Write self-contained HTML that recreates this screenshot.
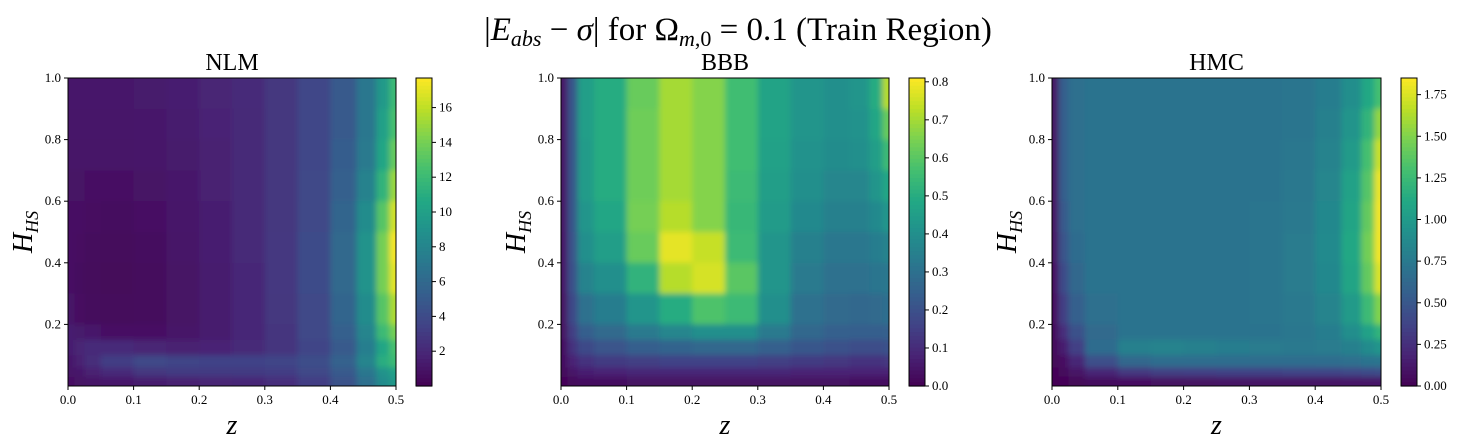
<!DOCTYPE html>
<html><head><meta charset="utf-8">
<style>
body{margin:0;background:#fff;}
svg{display:block;font-family:"Liberation Serif","DejaVu Serif",serif;}
</style></head>
<body>
<svg id="fig" width="1460" height="448" viewBox="0 0 1460 448" xmlns="http://www.w3.org/2000/svg">
<defs>
<filter id="soft" x="-20" y="-20" width="1500" height="500" filterUnits="userSpaceOnUse"><feGaussianBlur stdDeviation="2.8"/></filter>
</defs>
<text x="738" y="40" font-size="33" text-anchor="middle">|<tspan font-style="italic">E</tspan><tspan font-style="italic" font-size="22" dy="6">abs</tspan><tspan dy="-6"> − </tspan><tspan font-style="italic">σ</tspan>| for Ω<tspan font-style="italic" font-size="22" dy="6">m</tspan><tspan font-size="22">,0</tspan><tspan dy="-6"> = 0.1 (Train Region)</tspan></text>
</svg>
<script>
// shared grid edges (data units)
const colEdges=[0,0.01,0.025,0.05,0.1,0.15,0.2,0.25,0.3,0.35,0.4,0.44,0.47,0.49,0.5];
const rowEdges=[1,0.9,0.8,0.7,0.6,0.5,0.4,0.3,0.2,0.15,0.1,0.06,0.03,0];
const xTicks=[0,0.1,0.2,0.3,0.4,0.5];
const yTicks=[0.2,0.4,0.6,0.8,1.0];
const panelTitles=["NLM","BBB","HMC"];
const nlmRange=[0,17.7];
const bbbRange=[0,0.81];
const hmcRange=[0,1.85];
const nlmTicks=[2,4,6,8,10,12,14,16];
const bbbTicks=[0,0.1,0.2,0.3,0.4,0.5,0.6,0.7,0.8];
const hmcTicks=[0,0.25,0.5,0.75,1.0,1.25,1.5,1.75];
const nlmTickLabels=["2","4","6","8","10","12","14","16"];
const bbbTickLabels=["0.0","0.1","0.2","0.3","0.4","0.5","0.6","0.7","0.8"];
const hmcTickLabels=["0.00","0.25","0.50","0.75","1.00","1.25","1.50","1.75"];
const nlmValues=[
[1.2,1.2,1.2,1.2,1.3,1.5,1.8,2.2,2.8,3.7,5,7,9.5,12],
[1.1,1.1,1.1,1.1,1.2,1.4,1.7,2.1,2.8,3.7,5,7,10,12.5],
[1,1,1,1,1.1,1.3,1.6,2.1,2.8,3.7,5.2,7.2,10.5,13.5],
[.9,.9,.8,.8,.9,1.2,1.6,2.1,2.8,3.8,5.4,7.8,11.5,15],
[.8,.8,.7,.6,.8,1.1,1.5,2.1,2.8,3.9,5.7,8.5,13,16.5],
[.8,.7,.5,.4,.6,1,1.5,2.1,2.9,4,6,9,14,17.5],
[.8,.6,.4,.3,.5,.9,1.4,2,2.9,4,6,9,14,17],
[1,.7,.5,.4,.5,.9,1.4,2,2.8,3.9,5.7,8.5,13,15.5],
[1.5,1.3,1.2,.8,.8,1,1.4,2,2.7,3.8,5.4,8,12,14],
[1.5,1.8,2.2,2.2,1.8,1.6,1.7,2.1,2.7,3.6,5,7.5,10.5,12.5],
[1.2,1.6,2.3,3.2,3.8,3.6,3.5,3.5,3.6,4.2,5.5,8,11,12],
[1,1.2,1.6,2.2,2.8,3,3,3,3.2,3.8,5,7,9,10],
[.8,.9,1,1.2,1.4,1.6,1.8,2,2.4,3.2,4.5,6.5,8.5,9.5]];
const bbbValues=[
[.05,.22,.45,.5,.62,.7,.66,.56,.47,.42,.4,.42,.5,.72],
[.05,.22,.45,.5,.63,.7,.66,.56,.47,.42,.4,.41,.48,.62],
[.05,.22,.44,.5,.63,.7,.66,.56,.46,.41,.39,.4,.45,.55],
[.05,.22,.44,.5,.63,.7,.66,.55,.45,.4,.37,.37,.42,.48],
[.05,.22,.42,.48,.64,.72,.66,.54,.44,.38,.35,.35,.38,.42],
[.05,.21,.4,.45,.62,.78,.74,.55,.42,.35,.32,.32,.34,.36],
[.05,.2,.36,.4,.52,.72,.76,.6,.42,.33,.3,.3,.31,.32],
[.04,.18,.3,.34,.42,.5,.58,.55,.4,.3,.28,.27,.28,.29],
[.04,.15,.24,.28,.33,.37,.4,.4,.33,.27,.25,.24,.24,.25],
[.03,.12,.18,.21,.24,.26,.27,.27,.25,.22,.2,.19,.19,.2],
[.03,.08,.12,.14,.15,.16,.16,.16,.15,.14,.13,.12,.12,.13],
[.02,.05,.07,.08,.09,.09,.09,.09,.09,.08,.08,.08,.08,.08],
[.01,.02,.03,.03,.04,.04,.04,.04,.04,.04,.04,.03,.03,.03]];
const hmcValues=[
[.1,.55,.68,.7,.7,.7,.7,.7,.7,.72,.78,.9,1.1,1.3],
[.1,.55,.68,.7,.7,.7,.7,.7,.7,.72,.8,.95,1.2,1.55],
[.1,.55,.68,.7,.7,.7,.7,.7,.7,.73,.82,1.0,1.3,1.7],
[.1,.55,.68,.7,.7,.7,.7,.7,.7,.74,.84,1.05,1.35,1.8],
[.1,.52,.67,.7,.7,.7,.7,.7,.71,.75,.86,1.08,1.4,1.82],
[.1,.48,.65,.7,.7,.7,.7,.7,.71,.76,.87,1.1,1.45,1.82],
[.08,.42,.62,.7,.7,.7,.7,.7,.71,.76,.86,1.08,1.4,1.75],
[.07,.34,.56,.68,.7,.7,.7,.7,.71,.75,.83,1.0,1.25,1.5],
[.05,.25,.46,.64,.7,.7,.7,.7,.7,.73,.78,.9,1.05,1.2],
[.04,.15,.35,.65,.8,.82,.8,.78,.76,.75,.76,.8,.88,.95],
[.03,.08,.2,.45,.62,.66,.66,.66,.66,.66,.66,.68,.7,.72],
[.02,.04,.1,.2,.3,.34,.35,.36,.36,.37,.38,.4,.42,.44],
[.01,.02,.03,.06,.08,.09,.09,.1,.1,.1,.1,.11,.11,.12]];

const VIR=[[68,1,84],[72,36,117],[65,68,135],[53,95,141],[42,120,142],[33,145,140],[34,168,132],[68,191,112],[122,209,81],[189,223,38],[253,231,37]];
function viridis(t){t=Math.max(0,Math.min(1,t));const f=t*10,i=Math.min(9,Math.floor(f)),r=f-i;
const a=VIR[i],b=VIR[i+1];return `rgb(${Math.round(a[0]+(b[0]-a[0])*r)},${Math.round(a[1]+(b[1]-a[1])*r)},${Math.round(a[2]+(b[2]-a[2])*r)})`;}
const NS="http://www.w3.org/2000/svg";
const svg=document.getElementById('fig');
const defs=svg.querySelector('defs');
function mk(tag,attrs,parent){const e=document.createElementNS(NS,tag);for(const k in attrs)e.setAttribute(k,attrs[k]);(parent||svg).appendChild(e);return e;}

const panels=[
 {x0:68,x1:396,cb:416,vals:nlmValues,range:nlmRange,ticks:nlmTicks,labels:nlmTickLabels,key:'nlm'},
 {x0:561,x1:889,cb:909,vals:bbbValues,range:bbbRange,ticks:bbbTicks,labels:bbbTickLabels,key:'bbb'},
 {x0:1052,x1:1381,cb:1401,vals:hmcValues,range:hmcRange,ticks:hmcTicks,labels:hmcTickLabels,key:'hmc'}];
const Y0=78,Y1=386;
panels.forEach((p,pi)=>{
 const g=mk('g',{});
 
 
 const xs=v=>p.x0+(p.x1-p.x0)*v/0.5;
 const ys=v=>Y1-(Y1-Y0)*v;
 const norm=v=>(v-p.range[0])/(p.range[1]-p.range[0]);
 const cp=mk('clipPath',{id:'clip-'+p.key},defs);
 mk('rect',{x:p.x0,y:Y0,width:p.x1-p.x0,height:Y1-Y0},cp);
 const clipG=mk('g',{'clip-path':'url(#clip-'+p.key+')'},g);
 const hg=mk('g',{filter:'url(#soft)'},clipG);
 
 
 const nr=rowEdges.length-1,nc=colEdges.length-1,E=12;
 for(let r=0;r<nr;r++)for(let c=0;c<nc;c++){
  let x=xs(colEdges[c]),x2=xs(colEdges[c+1]),y=ys(rowEdges[r]),y2=ys(rowEdges[r+1]);
  if(c===0)x-=E; if(c===nc-1)x2+=E; if(r===0)y-=E; if(r===nr-1)y2+=E;
  const rc=mk('rect',{x:x,y:y,width:x2-x+0.5,height:y2-y+0.5,fill:viridis(norm(p.vals[r][c]))},hg);
  
  
 }
 const fr=mk('rect',{x:p.x0,y:Y0,width:p.x1-p.x0,height:Y1-Y0,fill:'none',stroke:'#000','stroke-width':1},g);
 
 
 xTicks.forEach(t=>{const x=xs(t);mk('line',{x1:x,x2:x,y1:Y1,y2:Y1+4,stroke:'#000'},g);
  const tx=mk('text',{x:x,y:Y1+18,'font-size':13,'text-anchor':'middle'},g);tx.textContent=t.toFixed(1);
  
  });
 yTicks.forEach(t=>{const y=ys(t);mk('line',{x1:p.x0-4,x2:p.x0,y1:y,y2:y,stroke:'#000'},g);
  const tx=mk('text',{x:p.x0-7,y:y+4,'font-size':13,'text-anchor':'end'},g);tx.textContent=t.toFixed(1);
  
  });
 const tt=mk('text',{x:(p.x0+p.x1)/2,y:70,'font-size':24,'text-anchor':'middle'},g);tt.textContent=panelTitles[pi];
 
 
 const xl=mk('text',{x:(p.x0+p.x1)/2,y:434,'font-size':28,'font-style':'italic','text-anchor':'middle'},g);xl.textContent='z';
 
 
 const yl=mk('text',{transform:`translate(${p.x0-36},${(Y0+Y1)/2}) rotate(-90)`,'font-size':28,'font-style':'italic','text-anchor':'middle'},g);
 yl.innerHTML='H<tspan font-size="18" dy="6">HS</tspan>';
 
 
 // colorbar
 const cg=mk('g',{},g);
 
 
 const N=80;
 for(let i=0;i<N;i++){const y=Y0+(Y1-Y0)*i/N;mk('rect',{x:p.cb,y:y,width:16,height:(Y1-Y0)/N+0.6,fill:viridis(1-(i+0.5)/N)},cg);}
 mk('rect',{x:p.cb,y:Y0,width:16,height:Y1-Y0,fill:'none',stroke:'#000'},cg);
 p.ticks.forEach((t,i)=>{const y=Y1-(Y1-Y0)*norm(t);
  mk('line',{x1:p.cb+16,x2:p.cb+20,y1:y,y2:y,stroke:'#000'},cg);
  const tx=mk('text',{x:p.cb+23,y:y+4,'font-size':13},cg);tx.textContent=p.labels[i];
  
  });
});
</script>
</body></html>
